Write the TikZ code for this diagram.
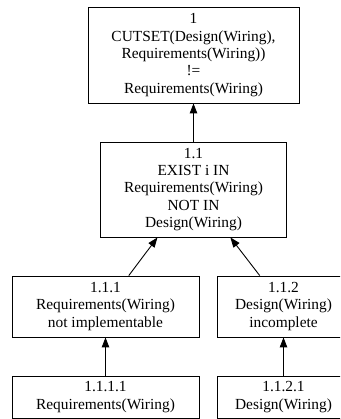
\documentclass[tikz,border=0pt]{standalone}
\usepackage{fontspec}
\setmainfont{Liberation Serif}
\usetikzlibrary{arrows.meta}
\begin{document}
\begin{tikzpicture}[x=1pt,y=1pt,
  box/.style={draw=black, line width=0.9pt, rectangle, inner sep=0pt, align=center,
    font=\fontsize{15.4}{17.4}\selectfont},
  edge/.style={draw=black, line width=0.9pt, -{Triangle[length=10pt,width=7.5pt]}}]
\useasboundingbox (0,0) rectangle (340,419);
\clip (0,0) rectangle (340,419);
\node[box, minimum width=211pt, minimum height=96pt] (n1) at (193.5,364)
  {1\\CUTSET(Design(Wiring),\\Requirements(Wiring))\\!=\\Requirements(Wiring)};
\node[box, minimum width=186pt, minimum height=95pt] (n11) at (193.5,229.5)
  {1.1\\EXIST i IN\\Requirements(Wiring)\\NOT IN\\Design(Wiring)};
\node[box, minimum width=187pt, minimum height=61pt] (n111) at (105.5,112.5)
  {1.1.1\\Requirements(Wiring)\\not implementable};
\node[box, minimum width=133pt, minimum height=61pt] (n112) at (283.5,112.5)
  {1.1.2\\Design(Wiring)\\incomplete};
\node[box, minimum width=187pt, minimum height=42.5pt] (n1111) at (105.5,21.75)
  {1.1.1.1\\Requirements(Wiring)};
\node[box, minimum width=133pt, minimum height=42.5pt] (n1121) at (283.5,21.75)
  {1.1.2.1\\Design(Wiring)};
\draw[edge] (n11) -- (n1);
\draw[edge] (n111) -- (n11);
\draw[edge] (n112) -- (n11);
\draw[edge] (n1111) -- (n111);
\draw[edge] (n1121) -- (n112);
\end{tikzpicture}
\end{document}
